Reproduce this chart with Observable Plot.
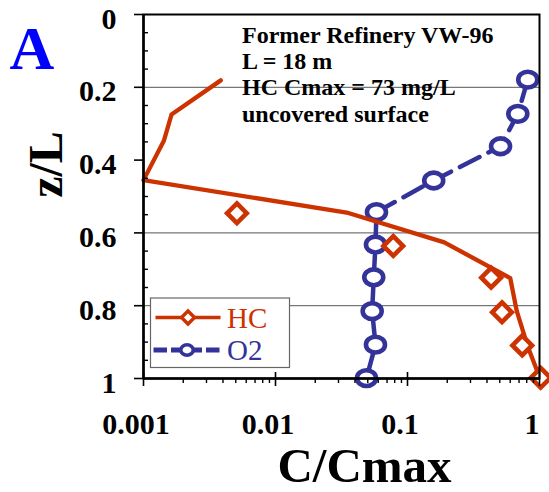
<!DOCTYPE html>
<html><head><meta charset="utf-8">
<script src="https://cdn.jsdelivr.net/npm/d3@7"></script>
<script src="https://cdn.jsdelivr.net/npm/@observablehq/plot@0.6"></script>
<style>
html,body{margin:0;padding:0;background:#fff;}
#chart{width:549px;height:492px;}
</style></head><body><div id="chart"></div>
<script>
// ---- data ----
const seriesNames = ["HC", "O2"];
// HC model curve (solid line)
const hcCurveX = [0.00385, 0.00163, 0.00143, 0.001, 0.0346, 0.19, 0.6, 0.672, 0.82, 1.01];
const hcCurveZ = [0.181, 0.275, 0.346, 0.455, 0.544, 0.626, 0.724, 0.814, 0.915, 1.0];
// HC observations (diamonds)
const hcObsX = [0.0051, 0.078, 0.43, 0.52, 0.74, 1.02];
const hcObsZ = [0.546, 0.636, 0.723, 0.818, 0.909, 0.998];
// O2 observations (dashed line + circles)
const o2X = [0.815, 0.685, 0.507, 0.158, 0.0582, 0.0572, 0.0555, 0.054, 0.0572, 0.0489];
const o2Z = [0.179, 0.273, 0.362, 0.456, 0.543, 0.632, 0.722, 0.815, 0.907, 0.999];

const xTicks = [0.001, 0.01, 0.1, 1];
const xTickLabels = ["0.001", "0.01", "0.1", "1"];
const xMinorTicks = [0.002,0.003,0.004,0.005,0.006,0.007,0.008,0.009,
                     0.02,0.03,0.04,0.05,0.06,0.07,0.08,0.09,
                     0.2,0.3,0.4,0.5,0.6,0.7,0.8,0.9];
const yTicks = [0, 0.2, 0.4, 0.6, 0.8, 1];
const yTickLabels = ["0", "0.2", "0.4", "0.6", "0.8", "1"];
const yMinorTicks = [0.05,0.1,0.15,0.25,0.3,0.35,0.45,0.5,0.55,0.65,0.7,0.75,0.85,0.9,0.95];
const yGrid = [0.2, 0.6, 0.8];
const annotation = ["Former Refinery VW-96", "L = 18 m", "HC Cmax = 73 mg/L", "uncovered surface"];
const panelLetter = "A";
const xTitle = "C/Cmax";
const yTitle = "z/L";

const HC_COLOR = "#CC3300";
const O2_COLOR = "#333399";
const FONT = "'Liberation Serif', 'Times New Roman', serif";

// ---- derived tables ----
const hcCurve = hcCurveX.map((x, i) => ({x, z: hcCurveZ[i]}));
const hcObs = hcObsX.map((x, i) => ({x, z: hcObsZ[i]}));
const o2 = o2X.map((x, i) => ({x, z: o2Z[i]}));
const xLab = new Map(xTicks.map((t, i) => [t, xTickLabels[i]]));
const yLab = new Map(yTicks.map((t, i) => [t, yTickLabels[i]]));

// ---- custom symbols ----
const diamondSym = {draw(ctx, size) {
  const r = Math.sqrt(size / Math.PI);
  ctx.moveTo(0, -r); ctx.lineTo(r, 0); ctx.lineTo(0, r); ctx.lineTo(-r, 0); ctx.closePath();
}};
const ellipseSym = {draw(ctx, size) {
  const rx = Math.sqrt(size / Math.PI), ry = rx * 0.83, k = 0.5523;
  ctx.moveTo(rx, 0);
  ctx.bezierCurveTo(rx, ry * k, rx * k, ry, 0, ry);
  ctx.bezierCurveTo(-rx * k, ry, -rx, ry * k, -rx, 0);
  ctx.bezierCurveTo(-rx, -ry * k, -rx * k, -ry, 0, -ry);
  ctx.bezierCurveTo(rx * k, -ry, rx, -ry * k, rx, 0);
  ctx.closePath();
}};
const hsegSym = {draw(ctx, size) {
  const r = Math.sqrt(size / Math.PI);
  ctx.moveTo(-r, 0); ctx.lineTo(r, 0);
}};

const chart = Plot.plot({
  width: 549, height: 492,
  marginLeft: 143, marginRight: 10, marginTop: 14, marginBottom: 114,
  x: {type: "log", domain: [0.001, 1], axis: null},
  y: {domain: [0, 1], reverse: true, axis: null},
  style: {fontFamily: FONT, background: "white", color: "black", overflow: "visible"},
  marks: [
    Plot.ruleY(yGrid, {stroke: "#555", strokeWidth: 1}),
    // O2
    Plot.line(o2, {x: "x", y: "z", stroke: O2_COLOR, strokeWidth: 4.5, strokeDasharray: "22,10"}),
    Plot.dot(o2, {x: "x", y: "z", symbol: ellipseSym, r: 9.5, stroke: O2_COLOR, strokeWidth: 4.6, fill: "white"}),
    // HC
    Plot.line(hcCurve, {x: "x", y: "z", stroke: HC_COLOR, strokeWidth: 4.3}),
    Plot.dot(hcObs, {x: "x", y: "z", symbol: diamondSym, r: 9.8, stroke: HC_COLOR, strokeWidth: 4.6, fill: "white"}),
    // frame and axes
    Plot.frame({stroke: "black", strokeWidth: 2}),
    Plot.ruleX([xTicks[0]], {stroke: "black", strokeWidth: 2.5}),
    Plot.ruleY([1], {stroke: "black", strokeWidth: 2.5}),
    Plot.axisY(yTicks, {anchor: "left", tickSize: 9, strokeWidth: 1.6, tickFormat: () => "", label: null}),
    Plot.axisY(yMinorTicks, {anchor: "left", tickSize: -5, strokeWidth: 1.4, tickFormat: () => "", label: null}),
    Plot.axisY(yTicks, {anchor: "left", tickSize: 0, tickPadding: 27, dy: 4.5, tickFormat: d => yLab.get(d),
      fontSize: 30, fontWeight: "bold", fontFamily: FONT, label: null}),
    Plot.axisX(xTicks, {anchor: "bottom", tickSize: 8, strokeWidth: 1.6, tickFormat: () => "", label: null}),
    Plot.axisX(xTicks, {anchor: "bottom", tickSize: -6, strokeWidth: 1.6, tickFormat: () => "", label: null}),
    Plot.axisX(xMinorTicks, {anchor: "bottom", tickSize: 5, strokeWidth: 1.4, tickFormat: () => "", label: null}),
    Plot.axisX(xTicks, {anchor: "bottom", tickSize: 0, tickPadding: 34, dx: -7.5, tickFormat: d => xLab.get(d),
      fontSize: 30, fontWeight: "bold", fontFamily: FONT, label: null}),
    // annotation
    Plot.text([annotation.join("\n")], {text: d => d, frameAnchor: "top-left", dx: 98.5, dy: 10,
      textAnchor: "start", lineAnchor: "top", lineHeight: 1.09, fontSize: 24, fontWeight: "bold", fill: "black", fontFamily: FONT}),
    // legend
    Plot.frame({insetLeft: 7, insetRight: 250, insetTop: 283.5, insetBottom: 11, fill: "white", stroke: "#666", strokeWidth: 1.2}),
    Plot.dot([seriesNames[0]], {frameAnchor: "bottom-left", dx: 44.5, dy: -61, symbol: hsegSym, r: 32.5,
      stroke: HC_COLOR, strokeWidth: 3.5, fill: "none"}),
    Plot.dot([seriesNames[0]], {frameAnchor: "bottom-left", dx: 44.5, dy: -61, symbol: diamondSym, r: 6.5,
      stroke: HC_COLOR, strokeWidth: 3.4, fill: "white"}),
    Plot.dot([seriesNames[1]], {frameAnchor: "bottom-left", dx: 43.5, dy: -28.5, symbol: hsegSym, r: 33.5,
      stroke: O2_COLOR, strokeWidth: 5, strokeDasharray: "13.5,4", fill: "none"}),
    Plot.dot([seriesNames[1]], {frameAnchor: "bottom-left", dx: 43.5, dy: -28.5, symbol: ellipseSym, r: 6.2,
      stroke: O2_COLOR, strokeWidth: 3.5, fill: "white"}),
    Plot.text([seriesNames[0]], {text: d => d, frameAnchor: "bottom-left", dx: 83.5, dy: -50.5, textAnchor: "start",
      lineAnchor: "bottom", fontSize: 29, fill: HC_COLOR, fontFamily: FONT}),
    Plot.text([seriesNames[1]], {text: d => d, frameAnchor: "bottom-left", dx: 83.5, dy: -18.5, textAnchor: "start",
      lineAnchor: "bottom", fontSize: 29, fill: O2_COLOR, fontFamily: FONT}),
    // titles
    Plot.text([xTitle], {text: d => d, frameAnchor: "bottom", dx: 23, dy: 103, lineAnchor: "bottom",
      textAnchor: "middle", fontSize: 49, fontWeight: "bold", fontFamily: FONT}),
    Plot.text([yTitle], {text: d => d, frameAnchor: "left", dx: -97, dy: -32, rotate: -90,
      textAnchor: "middle", fontSize: 48, fontWeight: "bold", fontFamily: FONT}),
    Plot.text([panelLetter], {text: d => d, frameAnchor: "top-left", dx: -134, dy: 54.3, lineAnchor: "bottom",
      textAnchor: "start", fontSize: 62, fontWeight: "bold", fill: "#0000FF", fontFamily: FONT})
  ]
});
document.getElementById("chart").appendChild(chart);
</script></body></html>
